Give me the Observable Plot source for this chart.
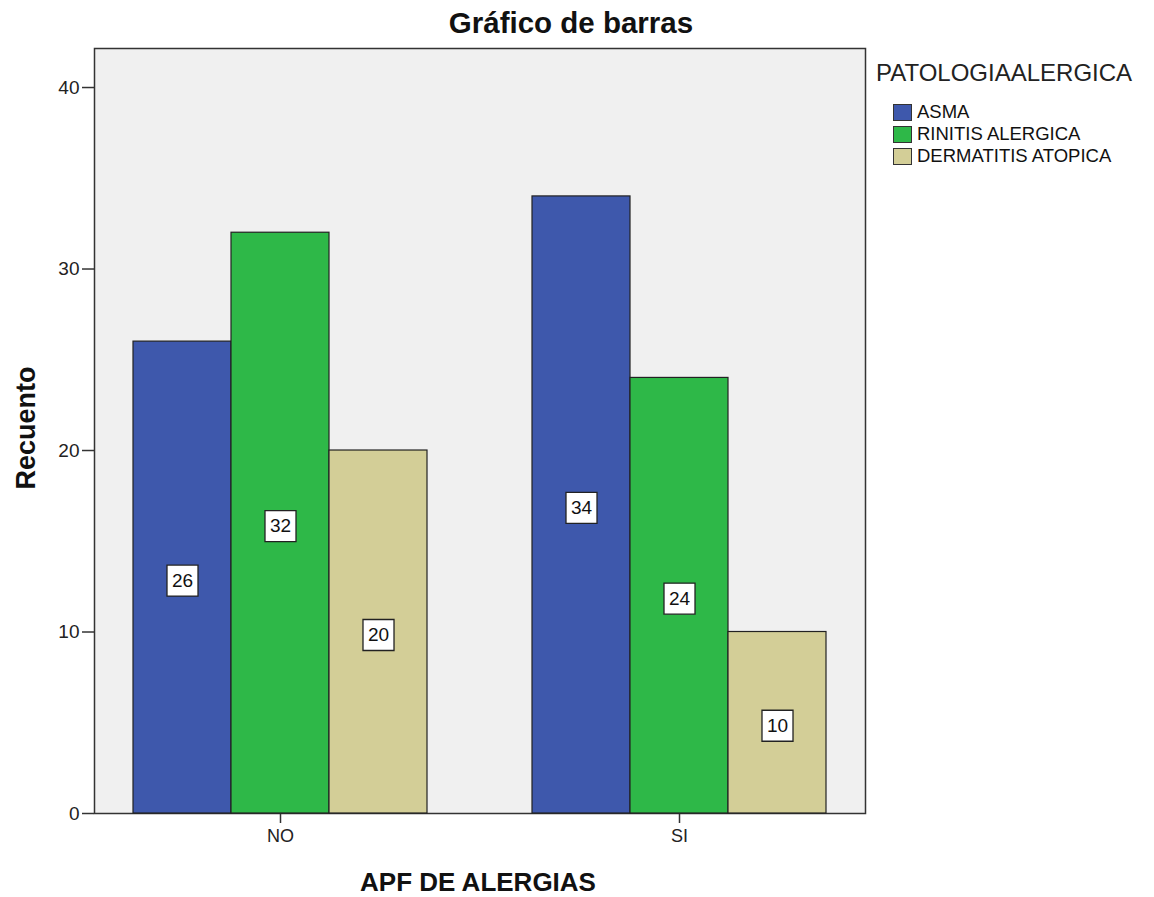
<!DOCTYPE html>
<html>
<head>
<meta charset="utf-8">
<script src="https://cdn.jsdelivr.net/npm/d3@7"></script>
<script src="https://cdn.jsdelivr.net/npm/@observablehq/plot@0.6"></script>
<style>
  body { margin: 0; background: #fff; font-family: Arial, "Liberation Sans", sans-serif; color: #111; }
  #chart { position: relative; width: 1154px; height: 897px; overflow: hidden; }
  #chart svg { position: absolute; left: 0; top: 0; }
  .title { position: absolute; left: 0; width: 1142px; top: 8px; text-align: center; font-weight: bold; font-size: 29.5px; line-height: 1; }
  .xlabel { position: absolute; left: 278px; width: 400px; top: 869px; text-align: center; font-weight: bold; font-size: 26px; line-height: 1; }
  .ylabel { position: absolute; left: 26px; top: 428px; transform: translate(-50%, -50%) rotate(-90deg); font-weight: bold; font-size: 27px; line-height: 1; white-space: nowrap; }
  .legend { position: absolute; left: 876px; top: 61px; }
  .legend .ltitle { font-size: 24px; line-height: 1; color: #222; margin-bottom: 16px; }
  .legend .item { display: flex; align-items: center; height: 22px; margin-left: 17px; font-size: 18.5px; color: #111; }
  .legend .sw { width: 17px; height: 15px; border: 1.5px solid #333; margin-right: 5px; }
</style>
</head>
<body>
<div id="chart">
  <div class="title">Gráfico de barras</div>
  <div class="xlabel">APF DE ALERGIAS</div>
  <div class="ylabel">Recuento</div>
</div>
<script>
// Counts of allergic pathology by family history of allergies
const groups = ["NO", "SI"];
const series = ["ASMA", "RINITIS ALERGICA", "DERMATITIS ATOPICA"];
const colors = ["#3E58AC", "#2EB848", "#D3CE97"];
const countsNO = [26, 32, 20];
const countsSI = [34, 24, 10];
const yTicks = [0, 10, 20, 30, 40];
const legendTitle = "PATOLOGIAALERGICA";

const data = [];
groups.forEach((g, gi) => {
  const vals = gi === 0 ? countsNO : countsSI;
  series.forEach((s, si) => data.push({apf: g, pat: s, n: vals[si]}));
});

const W = 1154, H = 897;
const margins = {marginTop: 48, marginBottom: 84, marginLeft: 94, marginRight: 289};
const yDomain = [0, 42.15];
const bandPad = {paddingInner: 0.258, paddingOuter: 0.094};

// Base layer: panel background, frame and axes
const base = Plot.plot({
  width: W, height: H, ...margins,
  style: {background: "transparent", fontFamily: "Arial, 'Liberation Sans', sans-serif", color: "#222"},
  x: {type: "band", domain: groups, ...bandPad, axis: null},
  y: {domain: yDomain, axis: null},
  marks: [
    Plot.frame({fill: "#F0F0F0", stroke: "#333", strokeWidth: 1.5}),
    Plot.axisY(yTicks, {tickSize: 12, tickPadding: 3, fontSize: 19, label: null, stroke: "#333", strokeWidth: 1.5}),
    Plot.axisX(groups, {tickSize: 10, tickPadding: 6, fontSize: 18, label: null, stroke: "#333", strokeWidth: 1.5})
  ]
});

// Bar layer: grouped bars faceted by family history
const bars = Plot.plot({
  width: W, height: H, ...margins,
  style: {background: "transparent", fontFamily: "Arial, 'Liberation Sans', sans-serif", overflow: "visible"},
  fx: {domain: groups, ...bandPad, axis: null},
  x: {domain: series, padding: 0, axis: null},
  y: {domain: yDomain, axis: null},
  color: {domain: series, range: colors},
  marks: [
    Plot.barY(data, {fx: "apf", x: "pat", y: "n", fill: "pat", stroke: "#222", strokeWidth: 1.2}),
    Plot.dot(data, {fx: "apf", x: "pat", y: d => d.n / 2, symbol: "square", r: 17.5, fill: "white", stroke: "#222", strokeWidth: 1.3, dy: 3}),
    Plot.text(data, {fx: "apf", x: "pat", y: d => d.n / 2, text: d => String(d.n), fontSize: 19, fill: "#111", dy: 3})
  ]
});

const chart = document.getElementById("chart");
chart.insertBefore(base, chart.firstChild);
chart.insertBefore(bars, base.nextSibling);

// Legend built from the series and colours
const legend = document.createElement("div");
legend.className = "legend";
const lt = document.createElement("div");
lt.className = "ltitle";
lt.textContent = legendTitle;
legend.appendChild(lt);
series.forEach((s, i) => {
  const item = document.createElement("div");
  item.className = "item";
  const sw = document.createElement("div");
  sw.className = "sw";
  sw.style.background = colors[i];
  const tx = document.createElement("span");
  tx.textContent = s;
  item.appendChild(sw);
  item.appendChild(tx);
  legend.appendChild(item);
});
chart.appendChild(legend);
</script>
</body>
</html>
